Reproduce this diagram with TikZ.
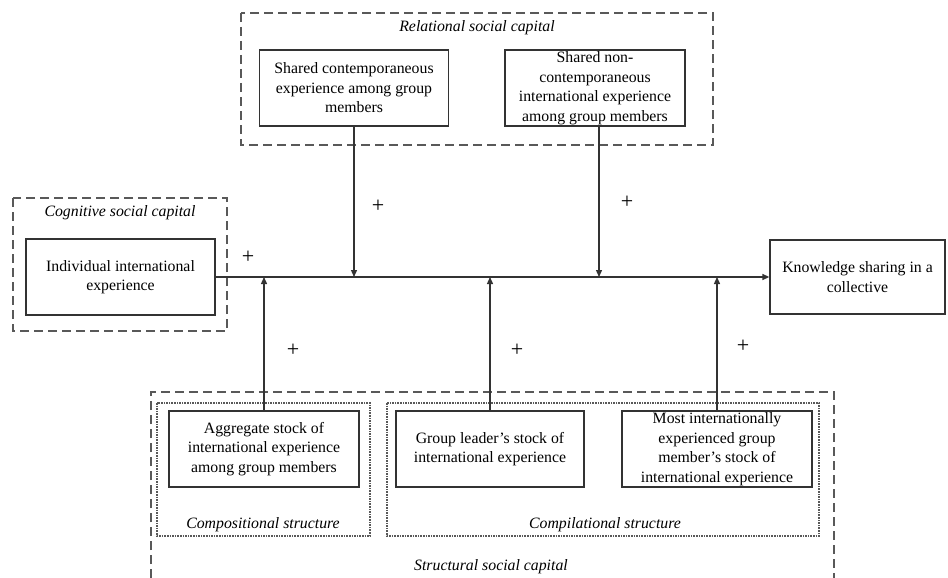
\documentclass[tikz,border=0pt]{standalone}
\usepackage{fontspec}
\setmainfont{Liberation Serif}
\usetikzlibrary{arrows.meta}

\tikzset{
  cbox/.style={draw=black!80, line width=1.3pt, align=center, inner sep=0pt,
    font=\fontsize{15.8}{19.5}\selectfont},
  capframe/.style={draw=black!65, line width=1.3pt, dash pattern=on 9pt off 5pt},
  subframe/.style={draw=black!65, line width=1.5pt, dash pattern=on 1.6pt off 1pt},
  caplabel/.style={font=\fontsize{15.8}{19.5}\selectfont\itshape, inner sep=0pt},
  plus/.style={font=\fontsize{22}{22}\selectfont, inner sep=0pt},
  link/.style={draw=black!80, line width=1.3pt, -{Triangle[length=7pt,width=6pt]}},
}

\begin{document}
\begin{tikzpicture}[x=1pt,y=-1pt]
  \useasboundingbox (0,0) rectangle (948,578);

  %%%%% FRAMES %%%%%
  \draw[capframe] (241,13) rectangle (713,145);
  \draw[capframe] (13,198) rectangle (227,331);
  \draw[capframe] (151,578) -- (151,392) -- (834,392) -- (834,578);
  \draw[subframe] (157,403) rectangle (370,536);
  \draw[subframe] (387,403) rectangle (819,536);

  \node[caplabel] (rellab) at (477,28) {Relational social capital};
  \node[caplabel] (coglab) at (120,213) {Cognitive social capital};
  \node[caplabel] (complab) at (263,525) {Compositional structure};
  \node[caplabel] (compilab) at (605,525) {Compilational structure};
  \node[caplabel] (strlab) at (491,567) {Structural social capital};

  %%%%% BOXES %%%%%
  \node[cbox, minimum width=189pt, minimum height=76pt] (shared) at (354,88)
    {Shared contemporaneous\\experience among group\\members};
  \node[cbox, minimum width=180pt, minimum height=76pt] (sharednon) at (595,88)
    {Shared non-\\contemporaneous\\international experience\\among group members};
  \node[cbox, minimum width=189pt, minimum height=76pt] (indiv) at (120.5,277)
    {Individual international\\experience};
  \node[cbox, minimum width=175pt, minimum height=74pt] (know) at (857.5,277)
    {Knowledge sharing in a\\collective};
  \node[cbox, minimum width=190pt, minimum height=76pt] (aggr) at (264,449)
    {Aggregate stock of\\international experience\\among group members};
  \node[cbox, minimum width=188pt, minimum height=76pt] (leader) at (490,449)
    {Group leader’s stock of\\international experience};
  \node[cbox, minimum width=190pt, minimum height=76pt] (most) at (717,449)
    {Most internationally\\experienced group\\member’s stock of\\international experience};

  %%%%% ARROWS %%%%%
  \coordinate (nontop) at (599,126);
  \draw[link] (indiv.east) -- (know.west);
  \draw[link] (shared.south) -- (shared.south |- indiv.east);
  \draw[link] (nontop) -- (nontop |- indiv.east);
  \draw[link] (aggr.north) -- (aggr.north |- indiv.east);
  \draw[link] (leader.north) -- (leader.north |- indiv.east);
  \draw[link] (most.north) -- (most.north |- indiv.east);

  \node[plus] (p1) at (248,257) {+};
  \node[plus] (p2) at (378,206) {+};
  \node[plus] (p3) at (627,202) {+};
  \node[plus] (p4) at (293,350) {+};
  \node[plus] (p5) at (517,350) {+};
  \node[plus] (p6) at (743,346) {+};
\end{tikzpicture}
\end{document}
